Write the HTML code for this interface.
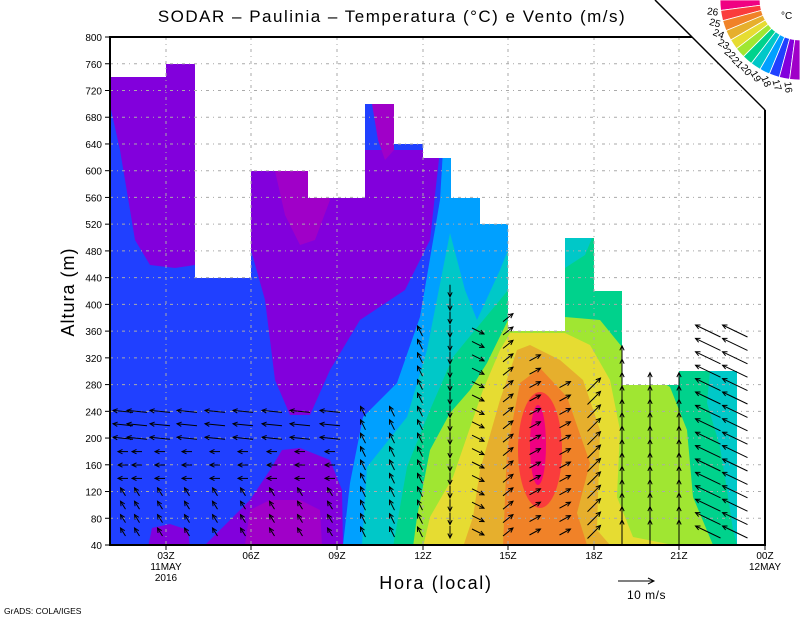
<!DOCTYPE html>
<html><head><meta charset="utf-8"><style>
body{margin:0;background:#fff;width:800px;height:618px;overflow:hidden}
svg{display:block;font-family:"Liberation Sans",sans-serif}
</style></head><body>
<svg id="s" width="800" height="618" viewBox="0 0 800 618" xmlns="http://www.w3.org/2000/svg">
<defs>
<clipPath id="dc"><path d="M110,77 H166 V64 H195 V278 H251 V171 H308 V198 H365 V104 H394 V144 H423 V158 H451 V198 H480 V224 H508 V331 H565 V238 H594 V291 H622 V385 H679 V371 H737 V545 H110 Z"/></clipPath>
</defs>
<g clip-path="url(#dc)">
<rect x="110" y="37" width="655" height="508" fill="#2040ff"/>
<rect x="508" y="230" width="230" height="320" fill="#a0e632"/>
<polygon fill="#00d28c" points="565,238 594,238 594,291 622,291 622,347 600,320 565,317"/>
<polygon fill="#00c8c8" points="565,238 592,238 585,255 565,268"/>
<polygon fill="#00d28c" points="665,384 679,384 679,371 737,371 737,545 713,545 693,497 687,430 670,387"/>
<polygon fill="#00c8c8" points="710,371 737,371 737,545 733,530 727,490 720,447 707,403"/>
<polygon fill="#8200dc" points="110,60 195,60 195,265 175,268 150,265 135,240 120,150 110,105"/>
<polygon fill="#8200dc" points="251,150 440,150 430,240 405,290 360,320 330,370 310,415 290,415 275,380 265,300 251,250"/>
<polygon fill="#a000c8" points="275,171 308,171 330,200 315,240 300,245 285,215"/>
<polygon fill="#a000c8" points="372,104 394,104 394,150 385,160 378,140"/>
<polygon fill="#8200dc" points="205,545 230,520 250,500 270,470 282,450 300,448 330,460 342,490 343,545"/>
<polygon fill="#a000c8" points="245,545 250,510 270,500 300,500 320,510 322,545"/>
<polygon fill="#8200dc" points="148,547 152,528 170,524 188,530 190,547"/>
<polygon fill="#00a0ff" points="443,150 480,150 480,197 508,224 508,545 343,545 350,483 363,417 397,383 420,317 440,200"/>
<polygon fill="#00c8c8" points="450,233 465,290 477,320 500,270 508,250 508,545 362,545 367,467 407,417 427,350"/>
<polygon fill="#00d28c" points="453,357 475,330 500,300 508,290 508,545 393,547 407,467 430,410"/>
<polygon fill="#a0e632" points="450,413 470,390 487,363 508,320 508,545 413,547 417,517 430,450"/>
<polygon fill="#a0e632" points="508,331 565,331 565,340 508,345"/>
<polygon fill="#e6dc32" points="483,390 500,350 510,333 565,333 590,345 610,380 620,430 617,497 633,537 673,545 423,547 430,517 453,477"/>
<polygon fill="#e6af2d" points="517,350 530,345 560,360 583,380 600,430 597,530 610,545 463,547 473,517 480,470 500,400"/>
<polygon fill="#f08228" points="520,383 540,368 567,397 590,463 577,513 587,545 503,547 507,450"/>
<ellipse cx="540" cy="450" rx="22" ry="58" fill="#fa3c3c"/>
<ellipse cx="538" cy="445" rx="8" ry="40" fill="#f00082"/>
</g>
<g id="grid" stroke="#aaa" stroke-width="1" stroke-dasharray="3,4,1,4"></g>
<g id="arrows" stroke="#000" stroke-width="1" fill="none"></g>
<rect x="110" y="37" width="655" height="508" fill="none" stroke="#000" stroke-width="2"/>
<g id="ticks" stroke="#000" stroke-width="1"></g>
<g id="lab" font-size="10" fill="#000"></g>
<polygon points="655,0 800,0 800,110 765,110" fill="#fff"/>
<line x1="655" y1="0" x2="765" y2="110" stroke="#000" stroke-width="1.5"/>
<g id="leg"></g>
<text x="781" y="19" font-size="10">°C</text>
<text x="392" y="22" font-size="17" text-anchor="middle" letter-spacing="1.5">SODAR – Paulinia – Temperatura (°C) e Vento (m/s)</text>
<text transform="translate(74,292) rotate(-90)" font-size="18" text-anchor="middle" letter-spacing="1">Altura (m)</text>
<text x="436" y="589" font-size="18" text-anchor="middle" letter-spacing="1.7">Hora (local)</text>
<line x1="618" y1="581" x2="654" y2="581" stroke="#000"/>
<polyline points="648,578 654,581 648,584" stroke="#000" fill="none"/>
<text x="627" y="599" font-size="12" letter-spacing="0.5">10 m/s</text>
<text x="4" y="614" font-size="8.5">GrADS: COLA/IGES</text>
</svg>
<script>
(function(){
var NS="http://www.w3.org/2000/svg";
function el(p,t,a,txt){var e=document.createElementNS(NS,t);for(var k in a)e.setAttribute(k,a[k]);if(txt)e.textContent=txt;document.getElementById(p).appendChild(e);return e;}
function Y(m){return 545-(m-40)*0.6684;}
var xs=[166,251,337,423,508,594,679];
for(var m=80;m<800;m+=40){el("grid","line",{x1:110,x2:765,y1:Y(m),y2:Y(m)});}
xs.forEach(function(x){el("grid","line",{x1:x,x2:x,y1:37,y2:545});});
for(var m2=40;m2<=800;m2+=40){el("ticks","line",{x1:105,x2:110,y1:Y(m2),y2:Y(m2)});el("lab","text",{x:102,y:Y(m2)+4,"text-anchor":"end"},String(m2));}
var xl=["03Z","06Z","09Z","12Z","15Z","18Z","21Z","00Z"];
xs.concat([765]).forEach(function(x,i){el("ticks","line",{x1:x,x2:x,y1:545,y2:550});el("lab","text",{x:x,y:559,"text-anchor":"middle"},xl[i]);});
el("lab","text",{x:166,y:570,"text-anchor":"middle"},"11MAY");
el("lab","text",{x:166,y:581,"text-anchor":"middle"},"2016");
el("lab","text",{x:765,y:570,"text-anchor":"middle"},"12MAY");
var cols=["#f00082","#fa3c3c","#f08228","#e6af2d","#e6dc32","#a0e632","#00d28c","#00c8c8","#00a0ff","#2040ff","#8200dc","#a000c8"];
function P(r,t){t=t*Math.PI/180;return [800+r*Math.cos(t),r*Math.sin(t)];}
for(var i=0;i<12;i++){var a1=180-i*7.5,a2=180-(i+1)*7.5;var p1=P(40,a1),p2=P(80,a1),p3=P(80,a2),p4=P(40,a2);
el("leg","path",{d:"M"+p1+" L"+p2+" A80,80 0 0,0 "+p3+" L"+p4+" A40,40 0 0,1 "+p1+"Z",fill:cols[i],stroke:"#fff","stroke-width":0.8});}
for(var k=1;k<=11;k++){var th=180-7.5*k;var p=P(88,th);el("leg","text",{x:p[0],y:p[1]+3.5,"font-size":10,"text-anchor":"middle",transform:"rotate("+(180-th)+" "+p[0]+" "+p[1]+")"},String(27-k));}
function arrow(x,y,dx,dy){var x2=x+dx,y2=y+dy;el("arrows","line",{x1:x,y1:y,x2:x2,y2:y2});var L=Math.hypot(dx,dy);if(L<1)return;var ux=dx/L,uy=dy/L,h=5,c=Math.cos(0.45),s=Math.sin(0.45);
el("arrows","polyline",{points:(x2-h*(ux*c-uy*s))+","+(y2-h*(uy*c+ux*s))+" "+x2+","+y2+" "+(x2-h*(ux*c+uy*s))+","+(y2-h*(uy*c-ux*s))});}
var cx=[123,137,160,187,215,243,272,300,330,363,392,420,450,478,508,535,565,594,622,650,679,708,735];
function topY(x){if(x<400)return 405;if(x<440)return 330;if(x<460)return 290;if(x<490)return 330;if(x<520)return 315;if(x<550)return 345;if(x<600)return 375;if(x<630)return 345;if(x<690)return 375;return 320;}
cx.forEach(function(x){for(var y=532;y>=topY(x);y-=13.4){var dx,dy;
if(x<345){if(y<440){dx=-20;dy=-2;}else if(y<480){dx=-10;dy=0;}else{dx=-5;dy=-8;}}
else if(x<440){dx=-5;dy=-10;}
else if(x<460){dx=0;dy=12;}
else if(x<490){dx=12;dy=6;}
else if(x<520){dx=10;dy=-8;}
else if(x<580){dx=11;dy=-6;}
else if(x<610){dx=13;dy=-13;}
else if(x<690){dx=0;dy=-24;}
else{dx=-25;dy=-12;}
arrow(x-dx/2,y-dy/2,dx,dy);}});
})();
</script>
</body></html>
